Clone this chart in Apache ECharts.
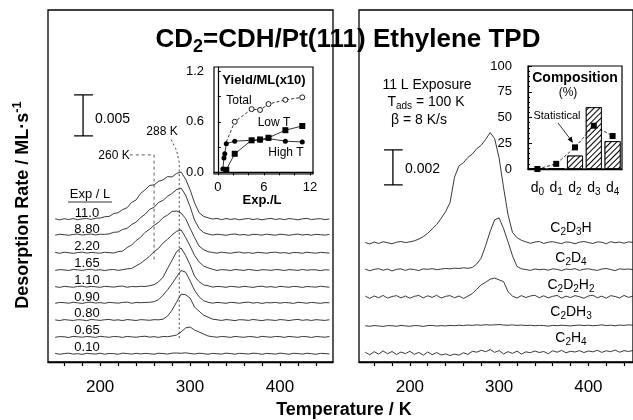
<!DOCTYPE html>
<html>
<head>
<meta charset="utf-8">
<script src="https://cdn.jsdelivr.net/npm/echarts@6/dist/echarts.min.js"></script>
<style>
  html, body { margin: 0; padding: 0; background: #fff; }
  #chart { width: 633px; height: 420px; }
</style>
</head>
<body>
<div id="chart"></div>
<script>
const FONT = '"Liberation Sans", Arial, Helvetica, sans-serif';

// temperature grid of the TPD traces (K)
const temps = [150,155,160,165,170,175,180,185,190,195,
  200,205,210,215,220,225,230,235,240,245,
  250,255,260,265,270,275,280,285,290,295,
  300,305,310,315,320,325,330,335,340,345,
  350,355,360,365,370,375,380,385,390,395,
  400,405,410,415,420,425,430,435,440,445,
  450,455];

// left panel: desorption rate (1e-3 ML/s) above each trace's baseline, by exposure
const expLabels = ['11.0', '8.80', '2.20', '1.65', '1.10', '0.90', '0.80', '0.65', '0.10'];
const tr11_0 = [0.05,-0.08,0.06,-0.03,0.08,-0.06,0.04,0.10,-0.02,0.12,
  0.15,0.30,0.34,0.68,0.80,1.18,1.40,2.05,2.35,3.15,
  3.58,4.12,4.18,4.62,4.80,5.20,5.15,5.58,5.75,4.90,
  3.60,2.00,0.80,0.35,0.18,0.02,0.10,-0.05,0.08,-0.02,
  0.06,-0.07,0.03,0.09,-0.04,0.05,-0.08,0.04,0.10,-0.03,
  0.06,-0.05,0.08,0.02,-0.07,0.05,0.10,-0.04,0.03,0.07,
  -0.05,0.04];
const tr8_80 = [-0.04,0.07,0.02,-0.06,0.05,0.09,-0.03,0.04,0.10,-0.02,
  0.08,0.05,0.12,0.30,0.35,0.65,0.80,1.25,1.55,2.10,
  2.50,3.10,3.35,3.95,4.20,4.70,5.05,5.50,5.70,4.85,
  3.45,1.80,0.78,0.28,0.10,-0.03,0.07,0.02,-0.06,0.05,
  0.10,-0.02,0.04,-0.07,0.06,0.03,-0.04,0.08,0.01,-0.05,
  0.07,0.03,-0.06,0.04,0.09,-0.03,0.05,-0.05,0.06,0.02,
  -0.04,0.05];
const tr2_20 = [0.06,-0.05,0.08,0.02,-0.06,0.04,0.09,-0.03,0.05,0.01,
  -0.04,0.07,0.03,-0.02,0.15,0.22,0.65,0.95,1.50,1.90,
  2.50,2.88,3.35,3.72,4.30,4.60,5.05,5.10,4.85,4.20,
  3.00,1.88,0.82,0.40,0.14,0.05,-0.04,0.08,0.02,-0.05,
  0.06,0.10,-0.03,0.04,-0.06,0.07,0.02,-0.04,0.05,0.09,
  -0.02,0.04,-0.07,0.05,0.03,-0.05,0.08,0.01,-0.04,0.06,
  0.02,-0.03];
const tr1_65 = [-0.03,0.06,0.02,-0.05,0.08,0.03,-0.04,0.06,0.10,-0.02,
  0.05,-0.06,0.04,0.07,-0.03,0.05,0.15,0.20,0.52,0.82,
  1.25,1.68,2.25,2.65,3.30,3.75,4.30,4.72,4.90,4.00,
  2.95,1.80,1.00,0.50,0.28,0.10,-0.04,0.06,0.03,-0.05,
  0.07,0.02,-0.04,0.09,0.01,-0.06,0.05,0.03,-0.03,0.07,
  0.04,-0.05,0.06,0.02,-0.04,0.08,-0.02,0.05,0.03,-0.06,
  0.04,0.01];
const tr1_10 = [0.04,-0.06,0.07,0.02,-0.04,0.05,0.09,-0.03,0.06,0.01,
  -0.05,0.07,0.03,-0.02,0.06,0.10,-0.04,0.05,0.02,0.08,
  0.05,0.15,0.28,0.62,1.20,2.25,3.25,4.30,4.75,3.85,
  2.70,1.30,0.65,0.25,0.15,-0.02,0.06,0.03,-0.05,0.07,
  0.02,-0.04,0.08,0.01,-0.06,0.05,0.09,-0.03,0.04,-0.05,
  0.06,0.02,-0.04,0.07,0.03,-0.06,0.05,0.01,-0.03,0.08,
  0.02,-0.04];
const tr0_90 = [-0.05,0.06,0.03,-0.04,0.08,0.01,-0.06,0.05,0.09,-0.02,
  0.04,-0.05,0.07,0.02,-0.03,0.06,0.10,-0.04,0.05,0.03,
  0.05,0.08,0.15,0.40,0.95,1.60,2.35,3.15,3.95,3.75,
  2.70,1.55,0.75,0.28,0.08,-0.03,0.06,0.02,-0.05,0.07,
  0.03,-0.04,0.06,0.09,-0.02,0.05,-0.06,0.04,0.01,0.07,
  -0.03,0.05,0.02,-0.06,0.08,0.03,-0.04,0.06,0.01,-0.05,
  0.04,0.02];
const tr0_80 = [0.03,-0.05,0.07,0.01,-0.04,0.06,0.02,-0.06,0.08,0.03,
  -0.03,0.05,0.09,-0.02,0.04,-0.05,0.07,0.02,-0.04,0.06,
  0.03,-0.02,0.06,0.04,0.12,0.49,1.22,2.20,3.17,3.10,
  2.70,1.59,1.10,0.61,0.37,0.12,0.05,-0.04,0.07,0.02,
  -0.05,0.06,0.03,-0.03,0.08,0.01,-0.06,0.05,0.02,-0.04,
  0.07,0.03,-0.05,0.04,0.09,-0.02,0.05,-0.04,0.06,0.01,
  -0.03,0.05];
const tr0_65 = [-0.04,0.05,0.02,-0.06,0.07,0.03,-0.03,0.06,0.01,-0.05,
  0.08,0.02,-0.04,0.06,0.03,-0.05,0.07,0.01,-0.03,0.05,
  0.09,-0.02,0.04,-0.05,0.06,0.03,0.12,0.24,0.61,1.10,
  1.22,0.85,0.61,0.37,0.12,0.04,-0.03,0.06,0.02,-0.05,
  0.07,0.01,-0.04,0.05,0.03,-0.06,0.08,0.02,-0.03,0.06,
  0.04,-0.05,0.07,0.01,-0.04,0.06,0.03,-0.06,0.05,0.02,
  -0.03,0.06];
const tr0_10 = [0.05,-0.06,0.03,0.08,-0.04,0.02,-0.07,0.06,0.01,-0.03,
  0.07,-0.05,0.04,0.02,-0.06,0.08,0.03,-0.04,0.06,-0.02,
  0.05,0.01,-0.05,0.07,0.03,-0.04,0.08,0.10,0.06,0.12,
  0.04,-0.03,0.07,0.02,-0.06,0.05,0.01,-0.04,0.08,0.03,
  -0.05,0.06,0.02,-0.03,0.07,0.04,-0.06,0.05,0.01,-0.04,
  0.08,0.02,-0.05,0.06,0.03,-0.04,0.07,0.01,-0.06,0.05,
  0.03,-0.02];

// right panel (11 L exposure): isotopomer traces, 1e-3 ML/s above baseline
const isoLabels = ['C{s|2}D{s|3}H', 'C{s|2}D{s|4}', 'C{s|2}D{s|2}H{s|2}', 'C{s|2}DH{s|3}', 'C{s|2}H{s|4}'];
const trC2D3H = [0.02,-0.06,0.05,-0.03,0.07,0.01,-0.05,0.04,0.08,0.02,
  0.06,0.12,0.22,0.36,0.55,0.80,1.05,1.40,1.78,2.30,
  3.75,4.40,4.58,4.88,5.08,5.38,5.58,5.92,6.30,5.95,
  4.85,3.15,1.60,0.60,0.30,0.15,0.06,-0.02,0.05,0.08,
  -0.03,0.04,0.07,0.01,-0.04,0.06,0.03,-0.05,0.04,0.08,
  0.02,-0.03,0.06,0.04,-0.05,0.07,0.01,0.05,-0.02,0.06,
  0.03,-0.04];
const trC2D4 = [0.04,-0.05,0.03,0.07,-0.02,0.05,-0.06,0.03,0.06,-0.03,
  0.05,0.02,-0.04,0.06,0.03,0.07,0.01,0.05,0.08,0.06,
  0.10,0.08,0.12,0.09,0.14,0.34,0.69,1.40,2.20,2.86,
  2.97,2.35,1.60,0.80,0.20,0.06,0.02,-0.03,0.05,0.01,
  0.04,-0.02,0.06,0.03,-0.04,0.05,0.02,0.07,-0.03,0.04,
  0.06,0.01,-0.03,0.05,0.08,0.02,-0.04,0.06,0.03,0.05,
  0.01,0.04];
const trC2D2H2 = [0.05,-0.08,0.06,-0.04,0.09,-0.06,0.03,0.08,-0.05,0.06,
  -0.07,0.04,0.09,-0.05,0.07,-0.02,0.10,-0.06,0.04,0.08,
  -0.04,0.06,-0.08,0.05,0.20,0.45,0.70,0.85,1.02,1.08,
  0.98,0.88,0.30,0.05,-0.06,0.08,-0.03,0.06,0.10,-0.04,
  0.07,-0.05,0.04,0.09,-0.06,0.05,-0.03,0.08,0.02,-0.07,
  0.06,0.10,-0.04,0.05,-0.07,0.08,0.03,-0.05,0.09,-0.02,
  0.05,-0.06];
const trC2DH3 = [0.01,-0.02,0.02,0.00,-0.03,0.02,0.01,-0.02,0.03,0.00,
  -0.02,0.02,0.01,-0.03,0.02,0.03,-0.01,0.02,0.00,0.03,
  0.01,0.04,0.02,0.05,0.03,0.06,0.04,0.07,0.05,0.06,
  0.08,0.05,0.04,0.06,0.03,0.05,0.02,0.04,0.01,0.03,
  0.02,-0.01,0.03,0.01,0.04,0.02,0.00,0.03,0.05,0.02,
  0.04,0.01,0.03,0.06,0.02,0.04,0.01,0.05,0.03,0.06,
  0.04,0.07];
const trC2H4 = [0.05,-0.10,0.08,-0.06,0.12,-0.04,0.09,-0.08,0.06,-0.03,
  0.10,-0.07,0.04,-0.12,0.06,-0.09,0.03,-0.11,-0.05,-0.14,
  -0.06,-0.12,0.02,-0.08,0.10,0.05,0.16,0.08,0.20,0.04,
  0.14,-0.05,0.08,-0.02,0.11,-0.06,0.07,0.02,0.12,0.03,
  0.09,-0.04,0.13,0.05,0.15,0.02,0.10,0.06,0.14,0.03,
  0.12,0.07,0.16,0.04,0.13,0.08,0.17,0.05,0.14,0.09,
  0.15,0.06];

// inset: yield (ML x10) vs exposure (L)
const totalExp = [1.1, 2.2, 4.4, 5.5, 6.6, 8.8, 11.0];
const totalYield = [0.36, 0.60, 0.75, 0.74, 0.81, 0.86, 0.89];
const lowExp = [1.1, 2.2, 4.4, 5.5, 6.6, 8.8, 11.0];
const lowYield = [0.03, 0.22, 0.38, 0.39, 0.41, 0.50, 0.55];
const highExp = [0.65, 0.8, 0.9, 1.1, 2.2, 4.4, 5.5, 6.6, 8.8, 11.0];
const highYield = [0.04, 0.17, 0.22, 0.34, 0.37, 0.38, 0.38, 0.40, 0.37, 0.36];

// inset: isotopic composition (%)
const compCats = ['d0', 'd1', 'd2', 'd3', 'd4'];
const compMeasured = [0, 0, 13, 60, 27];
const compStatistical = [0, 5, 21, 42, 32];

// peak markers (K) and scale bars (1e-3 ML/s)
const peakMarks = [260, 288];
const scaleLeft = 5;
const scaleRight = 2;

// axis ticks
const mainTicks = [160,180,200,220,240,260,280,300,320,340,360,380,400,420,440];
const mainLabels = [200, 300, 400];
const yieldTicksX = [0, 2, 4, 6, 8, 10, 12];
const yieldLabelsX = [0, 6, 12];
const yieldTicksY = [0, 0.3, 0.6, 0.9, 1.2];
const yieldLabelsY = [0, 0.6, 1.2];

// ---- layout ----
const leftBase = [17.4, 15.5, 13.3, 11.2, 9.15, 7.2, 5.1, 3.05, 1.0];
const rightBase = [6.8, 5.26, 3.71, 2.06, 0.51];
const leftTraces = [tr11_0, tr8_80, tr2_20, tr1_65, tr1_10, tr0_90, tr0_80, tr0_65, tr0_10];
const rightTraces = [trC2D3H, trC2D4, trC2D2H2, trC2DH3, trC2H4];

const chart = echarts.init(document.getElementById('chart'));

function richSet(size, bold) {
  const w = bold ? 'bold' : 'normal';
  return {
    n: { fontFamily: FONT, fontSize: size, fontWeight: w, fill: '#000', color: '#000', verticalAlign: 'middle' },
    s: { fontFamily: FONT, fontSize: Math.round(size * 0.7), fontWeight: w, fill: '#000', color: '#000',
         verticalAlign: 'middle', padding: [Math.round(size * 0.55), 0, 0, 0] },
    u: { fontFamily: FONT, fontSize: Math.round(size * 0.7), fontWeight: w, fill: '#000', color: '#000',
         verticalAlign: 'middle', padding: [0, 0, Math.round(size * 0.6), 0] }
  };
}
// wrap plain parts of a string in the {n|} token
function wrap(str) {
  return str.split(/(\{[su]\|[^}]*\})/).filter(p => p).map(p => p[0] === '{' ? p : '{n|' + p + '}').join('');
}
function txt(x, y, text, size, opt) {
  opt = opt || {};
  return {
    type: 'text', x: x, y: y, rotation: opt.rotation || 0, z: 100,
    style: {
      text: wrap(text), rich: richSet(size, opt.bold),
      align: opt.align || 'center', verticalAlign: 'middle', fill: '#000'
    }
  };
}
function seg(x1, y1, x2, y2, dash) {
  return { type: 'line', z: 100, shape: { x1, y1, x2, y2 },
    style: { stroke: '#000', lineWidth: 0.8, lineDash: dash || null } };
}

const lineBase = { type: 'line', showSymbol: false, silent: true, animation: false };
const series = [];

leftTraces.forEach((tr, k) => {
  series.push(Object.assign({}, lineBase, {
    xAxisIndex: 0, yAxisIndex: 0,
    data: temps.map((t, i) => [t, leftBase[k] + tr[i]]),
    lineStyle: { color: '#222', width: 0.9 }
  }));
});
rightTraces.forEach((tr, k) => {
  series.push(Object.assign({}, lineBase, {
    xAxisIndex: 1, yAxisIndex: 1,
    data: temps.map((t, i) => [t, rightBase[k] + tr[i]]),
    lineStyle: { color: '#222', width: 0.9 }
  }));
});

// scale bars
function scaleBar(idx, t, y0, h) {
  return Object.assign({}, lineBase, {
    xAxisIndex: idx, yAxisIndex: idx,
    data: [[t - 10, y0], [t + 11, y0], [t, y0], [t, y0 + h], [t - 10, y0 + h], [t + 11, y0 + h]],
    lineStyle: { color: '#000', width: 1.3 }
  });
}
series.push(scaleBar(0, 181, 27.56, scaleLeft));
series.push(scaleBar(1, 181, 10.11, scaleRight));

// peak temperature guide lines
series.push(Object.assign({}, lineBase, {
  xAxisIndex: 0, yAxisIndex: 0,
  data: [[233, 25.24], [peakMarks[0], 25.24], [peakMarks[0], 12.07]],
  lineStyle: { color: '#333', width: 0.8, type: [3, 3] }
}));
series.push(Object.assign({}, lineBase, {
  xAxisIndex: 0, yAxisIndex: 0,
  data: [[279, 27.1], [285, 25.8], [peakMarks[1], 24.3], [peakMarks[1], 2.68]],
  lineStyle: { color: '#333', width: 0.9, type: [2, 2.5] }
}));

// yield inset
series.push({
  type: 'line', xAxisIndex: 2, yAxisIndex: 2, animation: false, silent: true,
  data: totalExp.map((e, i) => [e, totalYield[i]]),
  symbol: 'circle', symbolSize: (v, p) => (p.dataIndex === 0 ? 0 : 5),
  itemStyle: { color: '#fff', borderColor: '#000', borderWidth: 0.9 },
  lineStyle: { color: '#000', width: 0.8, type: [3, 2] }
});
series.push({
  type: 'line', xAxisIndex: 2, yAxisIndex: 2, animation: false, silent: true,
  data: lowExp.map((e, i) => [e, lowYield[i]]),
  symbol: 'rect', symbolSize: 6,
  itemStyle: { color: '#000' },
  lineStyle: { color: '#000', width: 0.8 }
});
series.push({
  type: 'line', xAxisIndex: 2, yAxisIndex: 2, animation: false, silent: true,
  data: highExp.map((e, i) => [e, highYield[i]]),
  symbol: 'circle', symbolSize: 5,
  itemStyle: { color: '#000' },
  lineStyle: { color: '#000', width: 0.8 }
});

// composition inset
series.push({
  type: 'bar', xAxisIndex: 3, yAxisIndex: 3, animation: false, silent: true,
  data: compMeasured, barWidth: 16,
  itemStyle: {
    color: '#fff', borderColor: '#000', borderWidth: 0.9,
    decal: { symbol: 'rect', symbolSize: 1, dashArrayX: [1, 0], dashArrayY: [1, 2.4],
             rotation: -Math.PI / 4, color: '#000', backgroundColor: '#fff' }
  }
});
series.push({
  type: 'line', xAxisIndex: 3, yAxisIndex: 3, animation: false, silent: true,
  data: compStatistical, symbol: 'rect', symbolSize: 6, z: 5,
  itemStyle: { color: '#000' },
  lineStyle: { color: '#000', width: 0.8, type: [3, 2] }
});

const axisBlack = { lineStyle: { color: '#000', width: 1.3 } };
function mainX(idx, min, max) {
  return {
    type: 'value', gridIndex: idx, min: min, max: max,
    axisLine: axisBlack,
    axisTick: { customValues: mainTicks, length: 4, lineStyle: { color: '#000', width: 1.2 } },
    axisLabel: { customValues: mainLabels, fontFamily: FONT, fontSize: 17, color: '#000', margin: 17 },
    splitLine: { show: false }
  };
}

const option = {
  animation: false,
  backgroundColor: '#fff',
  grid: [
    { left: 48, top: 10, width: 285, height: 352, show: true, borderColor: '#000', borderWidth: 1.3 },
    { left: 359, top: 10, width: 276, height: 352, show: true, borderColor: '#000', borderWidth: 1.3 },
    { left: 214, top: 67, width: 99, height: 107, show: true, backgroundColor: '#fff', borderColor: '#000', borderWidth: 1.2 },
    { left: 528, top: 66, width: 94, height: 103, show: true, backgroundColor: '#fff', borderColor: '#000', borderWidth: 1.2 }
  ],
  xAxis: [
    mainX(0, 142, 459),
    mainX(1, 143, 450),
    {
      type: 'value', gridIndex: 2, min: -0.5, max: 12.4,
      axisLine: axisBlack,
      axisTick: { customValues: yieldTicksX, length: 3, lineStyle: { color: '#000' } },
      axisLabel: { customValues: yieldLabelsX, fontFamily: FONT, fontSize: 13, color: '#000', margin: 7 },
      splitLine: { show: false }
    },
    {
      type: 'category', gridIndex: 3, data: compCats,
      axisLine: axisBlack,
      axisTick: { alignWithLabel: true, length: 5, lineStyle: { color: '#000' } },
      axisLabel: {
        margin: 10, interval: 0,
        formatter: v => '{n|' + v[0] + '}{s|' + v.slice(1) + '}',
        rich: richSet(14, false)
      }
    }
  ],
  yAxis: [
    { type: 'value', gridIndex: 0, min: 0, max: 42.9, show: false },
    { type: 'value', gridIndex: 1, min: 0, max: 20.1, show: false },
    {
      type: 'value', gridIndex: 2, min: -0.02, max: 1.25,
      axisLine: { show: true, lineStyle: { color: '#000', width: 1.2 } },
      axisTick: { show: true, inside: true, customValues: yieldTicksY, length: 3, lineStyle: { color: '#000' } },
      axisLabel: { customValues: yieldLabelsY, formatter: v => v.toFixed(1), fontFamily: FONT, fontSize: 13, color: '#000', margin: 10 },
      splitLine: { show: false }
    },
    {
      type: 'value', gridIndex: 3, min: 0, max: 100, interval: 25,
      axisLine: { show: true, lineStyle: { color: '#000', width: 1.2 } },
      axisTick: { show: true, inside: true, length: 4, lineStyle: { color: '#000' } },
      minorTick: { show: true, splitNumber: 5, length: 2, lineStyle: { color: '#000' } },
      axisLabel: { fontFamily: FONT, fontSize: 13, color: '#000', margin: 16 },
      splitLine: { show: false }
    }
  ],
  series: series,
  graphic: [
    txt(348, 40, 'CD{s|2}=CDH/Pt(111) Ethylene TPD', 26, { bold: true }),
    txt(23, 205, 'Desorption Rate / ML·s{u|-1}', 18, { bold: true, rotation: Math.PI / 2 }),
    txt(344, 410, 'Temperature / K', 18, { bold: true }),
    txt(95, 119, '0.005', 14, { align: 'left' }),
    txt(405, 169, '0.002', 14, { align: 'left' }),
    txt(114, 156, '260 K', 12),
    txt(162, 132, '288 K', 12),
    txt(90, 194, 'Exp / L', 13),
    seg(68, 202, 112, 202),
    ...expLabels.map((l, k) => txt(87, 213 + k * 16.8, l, 13)),
    ...isoLabels.map((l, k) => txt(571, [228, 258, 285, 312, 338][k], l, 14)),
    txt(427, 85, '11 L Exposure', 14),
    txt(426, 102, 'T{s|ads} = 100 K', 14),
    txt(419, 120, 'β = 8 K/s', 14),
    txt(264, 80, 'Yield/ML(x10)', 13, { bold: true }),
    txt(239, 101, 'Total', 12),
    txt(274, 123, 'Low T', 12),
    txt(286, 153, 'High T', 12),
    txt(262, 200, 'Exp./L', 13, { bold: true }),
    txt(575, 78, 'Composition', 14, { bold: true }),
    txt(568, 93, '(%)', 12),
    txt(557, 116, 'Statistical', 11),
    seg(558, 123, 571, 140),
    { type: 'polygon', z: 100, shape: { points: [[573, 143], [567.6, 139.6], [571.6, 136.6]] }, style: { fill: '#000' } }
  ]
};
chart.setOption(option);
</script>
</body>
</html>
